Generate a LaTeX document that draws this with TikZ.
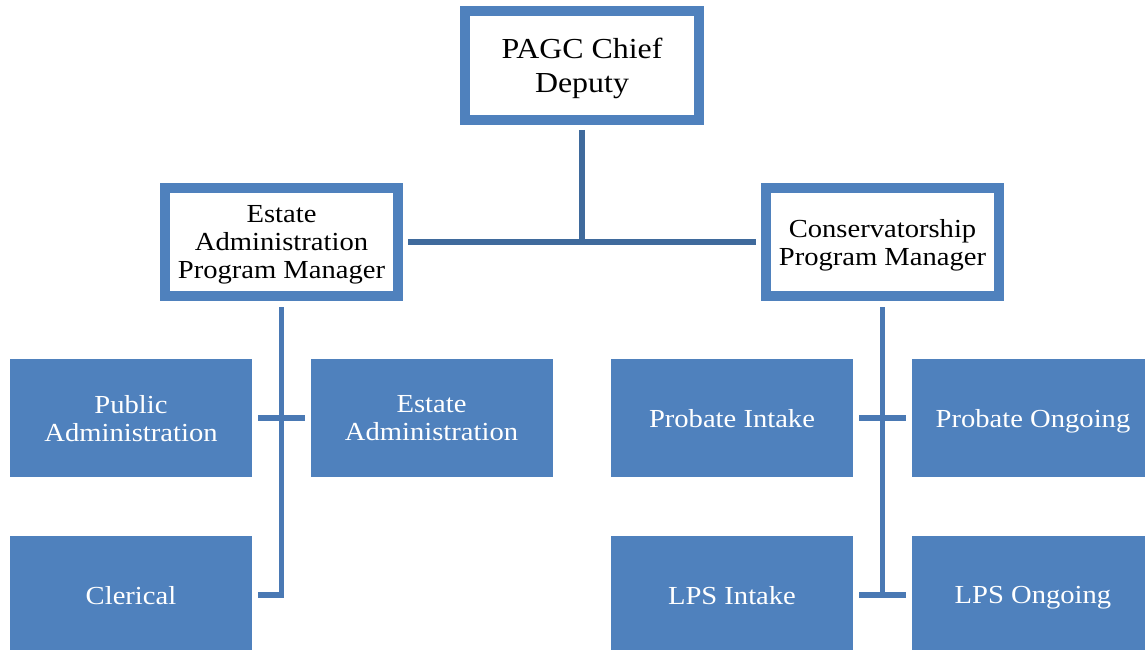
\documentclass[tikz,border=0pt]{standalone}
\usepackage{fontspec}
\setmainfont[FakeStretch=1.1]{Liberation Serif}
\usepackage{xcolor}
\usepackage{tikz}
\usetikzlibrary{positioning,calc}
\definecolor{boxblue}{HTML}{4F81BD}
\definecolor{linedark}{HTML}{3F6A9C}
\definecolor{linemid}{HTML}{4A79B4}

\begin{document}
\begin{tikzpicture}[x=1pt, y=-1pt,
    mgrbox/.style={draw=boxblue, line width=10pt, fill=white, align=center,
        minimum width=233pt, minimum height=108pt, inner sep=0pt, text depth=0pt,
        font=\fontsize{26}{28}\selectfont},
    teambox/.style={fill=boxblue, text=white, align=center, outer sep=0pt,
        minimum width=242pt, minimum height=118pt, inner sep=0pt, text depth=0pt,
        font=\fontsize{26}{28}\selectfont},
    topline/.style={draw=linedark, line width=5.5pt},
    subline/.style={draw=linemid, line width=5.5pt}]
    \useasboundingbox (0,0) rectangle (1145,650);

    % Managers
    \node [mgrbox, minimum width=234pt, minimum height=109pt,
        font=\fontsize{29}{34}\selectfont] (chief) at (582,65.5) {PAGC Chief\\Deputy};
    \node [mgrbox] (estmgr) at (281.5,242) {Estate\\Administration\\Program Manager};
    \node [mgrbox] (consmgr) at (882.5,242) {Conservatorship\\Program Manager};

    % Teams, left
    \node [teambox] (pubadm) at (131,418) {Public\\Administration};
    \node [teambox] (estadm) at (431.5,418) {Estate\\Administration};
    \node [teambox] (clerical) at (131,595) {Clerical};

    % Teams, right
    \node [teambox] (probin) at (732,418) {Probate Intake};
    \node [teambox] (probon) at (1033,418) {Probate Ongoing};
    \node [teambox] (lpsin) at (732,595) {LPS Intake};
    \node [teambox] (lpson) at (1033,595) {LPS Ongoing};

    % Top level
    \draw [topline, shorten <=5pt] (chief.south) -- (chief.south |- estmgr.east);
    \draw [topline, shorten <=5pt, shorten >=5pt] (estmgr.east) -- (consmgr.west);

    % Estate side
    \draw [subline, shorten <=6pt, shorten >=6pt] (estmgr.south) -- (estmgr.south |- clerical.east) -- (clerical.east);
    \draw [subline, shorten <=6pt, shorten >=6pt] (pubadm.east) -- (estadm.west);

    % Conservatorship side
    \draw [subline, shorten <=6pt] (consmgr.south) -- (consmgr.south |- lpsin.east);
    \draw [subline, shorten <=6pt, shorten >=6pt] (probin.east) -- (probon.west);
    \draw [subline, shorten <=6pt, shorten >=6pt] (lpsin.east) -- (lpson.west);
\end{tikzpicture}
\end{document}
